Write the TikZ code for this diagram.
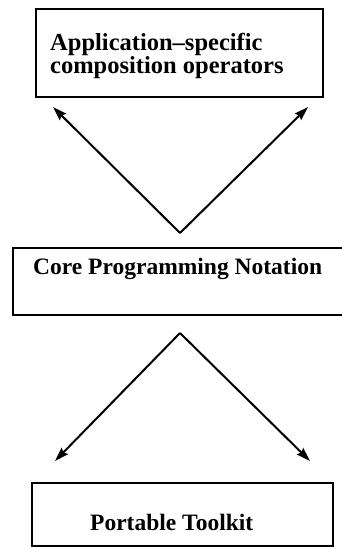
\documentclass[tikz,border=0pt]{standalone}
\usepackage{fontspec}
\setmainfont{Liberation Serif}
\usepackage{tikz}
\usetikzlibrary{arrows.meta,positioning}

\begin{document}
\begin{tikzpicture}[
    x=1pt, y=-1pt,
    layer/.style={draw, line width=2.2pt, inner sep=0pt},
    layertext/.style={inner sep=0pt, font=\fontsize{23.5}{20}\selectfont\bfseries},
    uses/.style={line width=2pt, -{Stealth[length=14pt,width=9pt,inset=2pt]}},
]
    \clip (0,0) rectangle (342,547);

    % Layers
    \node[layer, minimum width=287pt, minimum height=88pt] (apps) at (179.5,53) {};
    \node[layertext, anchor=north west, align=left, font=\fontsize{24.5}{20}\selectfont\bfseries] (appstext) at (50,33)
        {Application--specific\\composition operators};

    \node[layer, minimum width=339pt, minimum height=67pt] (core) at (182.5,281.5) {};
    \node[layertext, anchor=base west] (coretext) at (33,274) {Core Programming Notation};

    \node[layer, minimum width=301pt, minimum height=63pt] (toolkit) at (182.5,514.5) {};
    \node[layertext, anchor=base west] (toolkittext) at (90,530) {Portable Toolkit};

    % Arrow ends
    \coordinate (upfrom) at (180,233);
    \coordinate (upleft) at (53,107);
    \coordinate (upright) at (308,107);
    \coordinate (downfrom) at (180,333);
    \coordinate (downleft) at (55,461);
    \coordinate (downright) at (310,461);

    % Arrows
    \draw[uses] (upfrom) -- (upleft);
    \draw[uses] (upfrom) -- (upright);
    \draw[uses] (downfrom) -- (downleft);
    \draw[uses] (downfrom) -- (downright);
\end{tikzpicture}
\end{document}
